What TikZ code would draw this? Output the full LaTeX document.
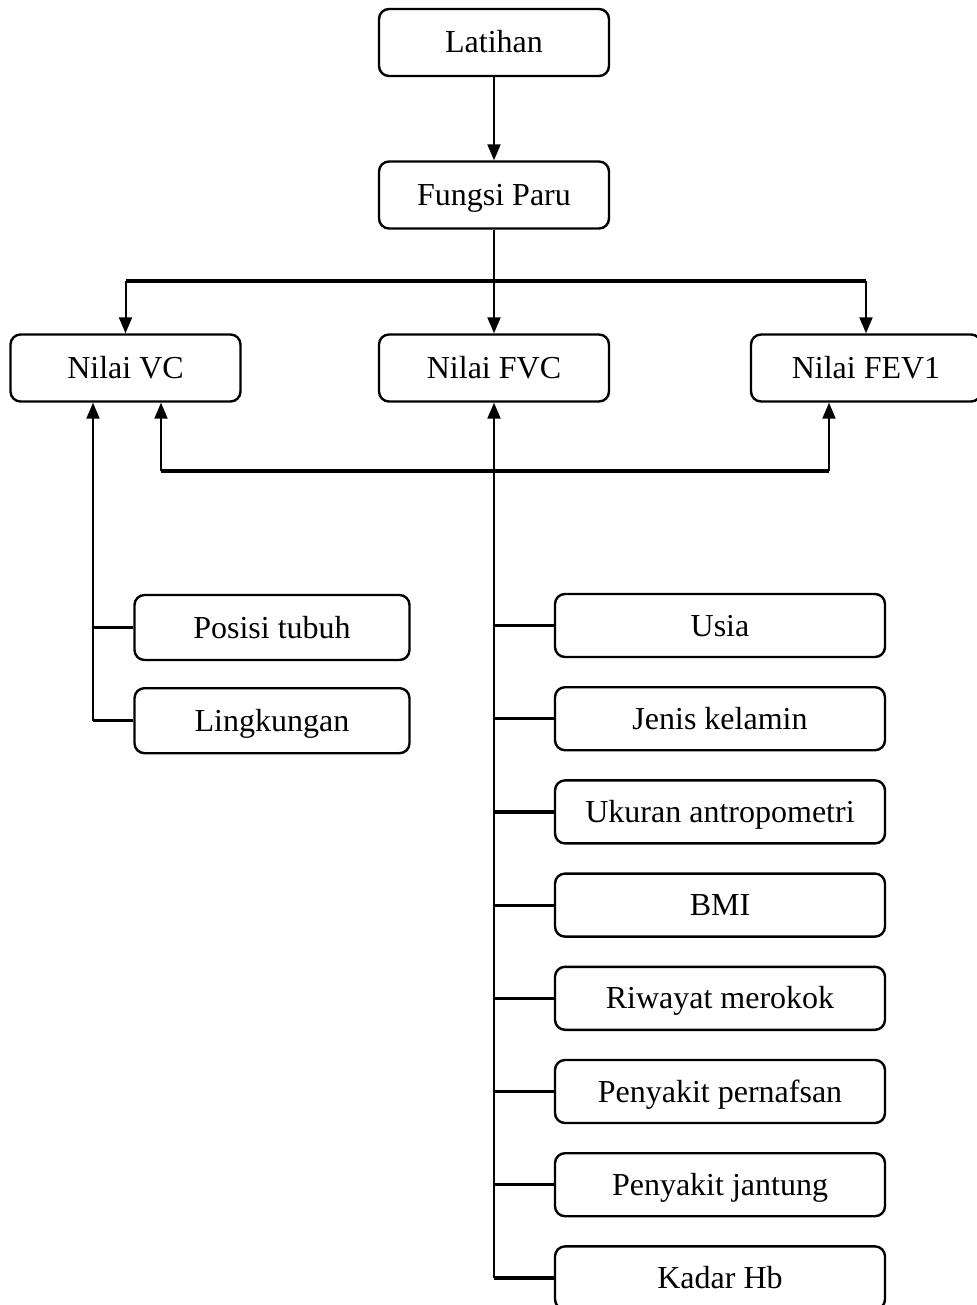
\documentclass[tikz,border=0pt]{standalone}
\usepackage{fontspec}
\setmainfont{Liberation Serif}
\usetikzlibrary{positioning,arrows.meta}

\begin{document}
\begin{tikzpicture}[x=0.5pt,y=-0.5pt,node distance=46.6pt,line width=1pt,>={Triangle[length=8pt,width=6.5pt]}]

\tikzstyle{box}=[draw=black,line width=1.2pt,rounded corners=5pt,inner sep=0pt,text height=12.5pt,text depth=2pt,font=\fontsize{16}{19}\selectfont]
\tikzstyle{main}=[box,minimum width=115pt,minimum height=33.5pt]
\tikzstyle{side}=[box,minimum width=137.5pt,minimum height=32.5pt]
\tikzstyle{factor}=[box,minimum width=165pt,minimum height=31.5pt]
\tikzstyle{bar}=[line width=1.6pt]

\useasboundingbox (0,0) rectangle (977,1305);

\node[main] 	(p0) at (494,42.5) 	{Latihan};
\node[main] 	(p1) at (494,195) 	{Fungsi Paru};
\node[main] 	(v1) at (125.5,368) {Nilai VC};
\node[main] 	(v2) at (494,368) 	{Nilai FVC};
\node[main] 	(v3) at (866,368) 	{Nilai FEV1};

\node[side] 	(g1) at (272,627.5) {Posisi tubuh};
\node[side] 	(g2) [below of=g1] 	{Lingkungan};

\node[factor] 	(f1) at (720,625.5) {Usia};
\node[factor] 	(f2) [below of=f1] 	{Jenis kelamin};
\node[factor] 	(f3) [below of=f2] 	{Ukuran antropometri};
\node[factor] 	(f4) [below of=f3] 	{BMI};
\node[factor] 	(f5) [below of=f4] 	{Riwayat merokok};
\node[factor] 	(f6) [below of=f5] 	{Penyakit pernafsan};
\node[factor] 	(f7) [below of=f6] 	{Penyakit jantung};
\node[factor] 	(f8) [below of=f7] 	{Kadar Hb};

\coordinate (top) at (494,281);
\coordinate (bl) at (161,471);
\coordinate (br) at (829,471);
\coordinate (lft) at (93,0);

\path[->] 	(p0) 	edge (p1)
			(p1)	edge (v2);

\draw[bar] (top -| v1) -- (top -| v3);
\draw[->] (top -| v1) -- (v1);
\draw[->] (top -| v3) -- (v3);

\draw[bar] (bl) -- (br);
\draw[->] (bl) -- (v1.south -| bl);
\draw[->] (br) -- (v3.south -| br);

\draw[->] (g2.west -| lft) -- (v1.south -| lft);
\draw[bar] (g1.west) -- (g1.west -| lft);
\draw[bar] (g2.west) -- (g2.west -| lft);

\draw[->] (f8.west -| v2) -- (v2);
\draw[bar] (f1.west) -- (f1.west -| v2);
\draw[bar] (f2.west) -- (f2.west -| v2);
\draw[bar] (f3.west) -- (f3.west -| v2);
\draw[bar] (f4.west) -- (f4.west -| v2);
\draw[bar] (f5.west) -- (f5.west -| v2);
\draw[bar] (f6.west) -- (f6.west -| v2);
\draw[bar] (f7.west) -- (f7.west -| v2);
\draw[bar] (f8.west) -- (f8.west -| v2);
\end{tikzpicture}
\end{document}
